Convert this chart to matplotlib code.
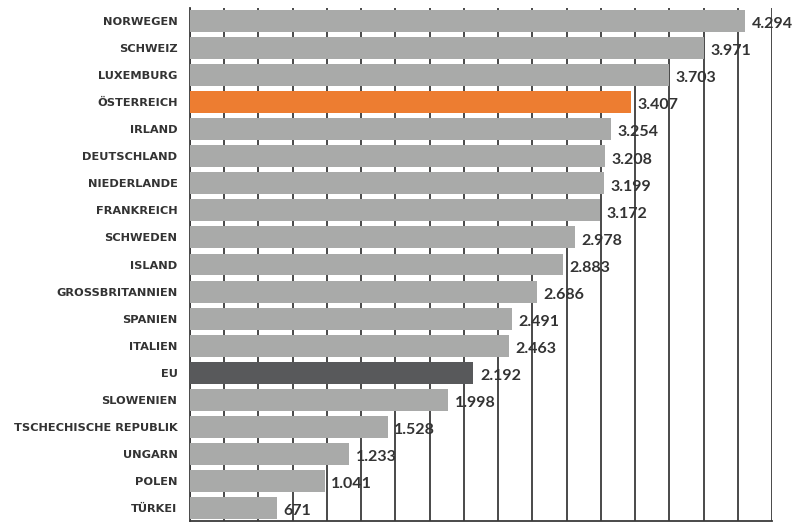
import numpy as np
import matplotlib.pyplot as plt

countries = ["NORWEGEN", "SCHWEIZ", "LUXEMBURG", "ÖSTERREICH", "IRLAND", "DEUTSCHLAND",
             "NIEDERLANDE", "FRANKREICH", "SCHWEDEN", "ISLAND", "GROSSBRITANNIEN", "SPANIEN",
             "ITALIEN", "EU", "SLOWENIEN", "TSCHECHISCHE REPUBLIK", "UNGARN", "POLEN", "TÜRKEI"]
values = [4294, 3971, 3703, 3407, 3254, 3208, 3199, 3172, 2978, 2883, 2686, 2491,
          2463, 2192, 1998, 1528, 1233, 1041, 671]
value_labels = ["4.294", "3.971", "3.703", "3.407", "3.254", "3.208", "3.199", "3.172",
                "2.978", "2.883", "2.686", "2.491", "2.463", "2.192", "1.998", "1.528",
                "1.233", "1.041", "671"]

gray = "#a9aaa9"
colors = [gray] * len(countries)
colors[countries.index("ÖSTERREICH")] = "#ed7d31"
colors[countries.index("EU")] = "#58595b"

fig = plt.figure(figsize=(7.92, 5.23), dpi=100)
ax = fig.add_axes([190 / 792, 2 / 523, 582 / 792, 513 / 523])

y = np.arange(len(countries))
ax.barh(y, values, height=0.81, color=colors, zorder=3)

# decorative vertical grid
for gx in np.linspace(0, 4500, 18):
    ax.axvline(gx, color="#3a3a3a", lw=1.3, zorder=1)

ax.set_xlim(0, 4500)
ax.set_ylim(len(countries) - 0.52, -0.48)
ax.set_xticks([])
ax.set_yticks(y)
ax.set_yticklabels(countries, fontfamily="DejaVu Sans", fontweight="bold",
                   fontsize=8.2, color="#333333")
ax.tick_params(axis="y", length=0, pad=9)
for s in ["top", "right"]:
    ax.spines[s].set_visible(False)
ax.spines["left"].set_color("#3a3a3a")
ax.spines["left"].set_linewidth(1.3)
ax.spines["bottom"].set_color("#3a3a3a")
ax.spines["bottom"].set_linewidth(1.3)

for yi, v, lab in zip(y, values, value_labels):
    ax.text(v + 50, yi + 0.12, lab, va="center", ha="left", fontfamily="Lato",
            fontweight="bold", fontsize=11.5, color="#333333", zorder=4)

fig.savefig("out.png", dpi=100)
